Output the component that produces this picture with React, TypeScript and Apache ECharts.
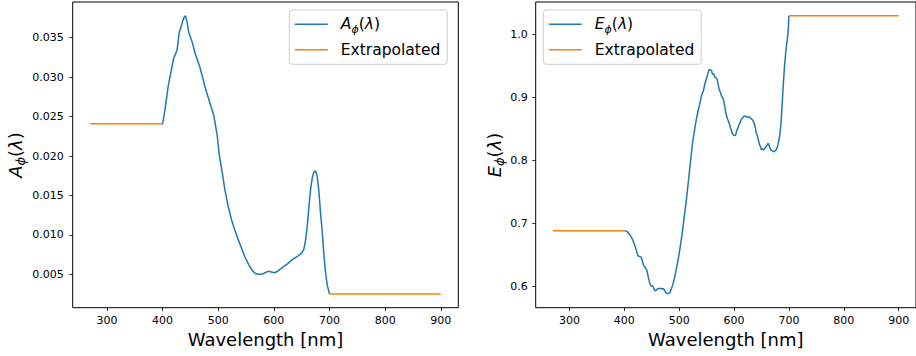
import React, { useEffect, useRef } from "react";
import * as echarts from "echarts";

// ---------- data ----------
const xTicks = [300, 400, 500, 600, 700, 800, 900];
const aTicks = [0.005, 0.01, 0.015, 0.02, 0.025, 0.03, 0.035];
const eTicks = [0.6, 0.7, 0.8, 0.9, 1.0];

const aWavelength = [400, 405, 410, 414, 420, 426, 430, 435, 438, 441, 444, 447, 453, 459, 467, 477, 486, 492, 498, 502, 507, 512, 518, 524, 530, 536, 542, 548, 555, 561, 567, 572, 578, 584, 590, 596, 602, 607, 612, 618, 624, 630, 638, 645, 650, 654, 657, 660, 663, 666, 669, 672, 675, 678, 681, 684, 687, 690, 693, 696, 700];
const aValues = [0.0240, 0.0262, 0.0288, 0.0303, 0.0324, 0.0334, 0.0357, 0.0368, 0.0375, 0.0378, 0.0370, 0.0357, 0.0345, 0.0329, 0.0313, 0.0286, 0.0265, 0.0252, 0.0227, 0.0201, 0.0180, 0.0157, 0.0136, 0.0119, 0.0106, 0.0094, 0.0083, 0.0072, 0.0062, 0.0055, 0.0051, 0.0050, 0.0050, 0.0052, 0.0054, 0.0053, 0.0052, 0.0054, 0.0057, 0.0060, 0.0063, 0.0067, 0.0071, 0.0074, 0.0077, 0.0082, 0.0093, 0.0111, 0.0135, 0.0158, 0.0172, 0.0180, 0.0181, 0.0174, 0.0155, 0.0127, 0.0104, 0.0074, 0.0052, 0.0036, 0.0025];
const aExtraLow = { x: [270, 400], y: [0.0241, 0.0241] };
const aExtraHigh = { x: [700, 900], y: [0.0025, 0.0025] };

const eWavelength = [400, 404, 408, 411, 414, 417, 420, 423, 425, 428, 431, 433, 435, 438, 441, 443, 445, 447, 449, 451, 453, 455, 457, 459, 461, 464, 467, 469, 471, 473, 475, 477, 479, 481, 483, 485, 487, 489, 492, 495, 498, 501, 504, 507, 510, 513, 516, 519, 522, 525, 528, 531, 534, 537, 540, 541, 544, 547, 550, 553, 555, 557, 559, 560, 562, 563, 565, 567, 569, 571, 573, 575, 577, 579, 581, 583, 585, 588, 591, 594, 597, 599, 601, 603, 605, 607, 609, 612, 615, 618, 621, 624, 627, 630, 633, 636, 638, 640, 642, 644, 646, 648, 650, 652, 654, 656, 658, 660, 662, 664, 666, 668, 670, 673, 676, 678, 680, 682, 684, 686, 688, 690, 692, 694, 696, 698, 699, 700];
const eValues = [0.6886, 0.6880, 0.6845, 0.6810, 0.6766, 0.6700, 0.6633, 0.6540, 0.6486, 0.6480, 0.6465, 0.6400, 0.6343, 0.6300, 0.6264, 0.6180, 0.6100, 0.6040, 0.6011, 0.6015, 0.5990, 0.5940, 0.5937, 0.5950, 0.5974, 0.5970, 0.5976, 0.5960, 0.5975, 0.5950, 0.5915, 0.5895, 0.5890, 0.5900, 0.5905, 0.5950, 0.6000, 0.6053, 0.6160, 0.6290, 0.6430, 0.6580, 0.6760, 0.6950, 0.7160, 0.7372, 0.7610, 0.7847, 0.8100, 0.8322, 0.8480, 0.8640, 0.8770, 0.8870, 0.9000, 0.9034, 0.9100, 0.9220, 0.9300, 0.9400, 0.9440, 0.9430, 0.9420, 0.9380, 0.9360, 0.9370, 0.9320, 0.9310, 0.9290, 0.9200, 0.9114, 0.9080, 0.9020, 0.8998, 0.8950, 0.8850, 0.8745, 0.8660, 0.8586, 0.8500, 0.8420, 0.8401, 0.8395, 0.8400, 0.8480, 0.8510, 0.8560, 0.8628, 0.8670, 0.8700, 0.8700, 0.8680, 0.8690, 0.8666, 0.8650, 0.8600, 0.8550, 0.8450, 0.8400, 0.8330, 0.8260, 0.8216, 0.8170, 0.8180, 0.8164, 0.8190, 0.8216, 0.8240, 0.8270, 0.8230, 0.8180, 0.8160, 0.8150, 0.8137, 0.8160, 0.8190, 0.8250, 0.8340, 0.8450, 0.8650, 0.8950, 0.9250, 0.9500, 0.9700, 0.9850, 1.0000, 1.0116, 1.0290];
const eExtraLow = { x: [270, 400], y: [0.6886, 0.6886] };
const eExtraHigh = { x: [700, 900], y: [1.029, 1.029] };

const BLUE = "#1f77b4";
const ORANGE = "#ff7f0e";
const FONT = "DejaVu Sans";

const zip = (xs: number[], ys: number[]) => xs.map((x, i) => [x, ys[i]]);

const mathRich = (size: number) => ({
  i: { fontFamily: FONT, fontStyle: "italic", fontSize: size, lineHeight: size + 5, color: "#000" },
  n: { fontFamily: FONT, fontSize: size, lineHeight: size + 5, color: "#000" },
  s: { fontFamily: FONT, fontStyle: "italic", fontSize: Math.round(size * 0.7), lineHeight: Math.round(size * 0.7), verticalAlign: "bottom", color: "#000" },
});
const mathLabel = (sym: string) => `{i|${sym}}{s|ϕ}{n|(}{i|λ}{n|)}`;

export default function App() {
  const ref = useRef<HTMLDivElement>(null);
  useEffect(() => {
    if (!ref.current) return;
    const chart = echarts.init(ref.current, undefined, { renderer: "svg" });

    const xAxisBase = (gridIndex: number) => ({
      type: "value",
      gridIndex,
      min: 238.5,
      max: 931.5,
      name: "Wavelength [nm]",
      nameLocation: "middle",
      nameGap: 21,
      nameTextStyle: { fontFamily: FONT, fontSize: 18, color: "#000" },
      axisLine: { show: false },
      axisTick: { show: true, length: 3.5, customValues: xTicks, lineStyle: { color: "#000", width: 0.8 } },
      axisLabel: { customValues: xTicks, margin: 7, fontFamily: FONT, fontSize: 11, color: "#000" },
      splitLine: { show: false },
    });

    const yAxisBase = (gridIndex: number, min: number, max: number, ticks: number[], dec: number, margin: number) => ({
      type: "value",
      gridIndex,
      min,
      max,
      axisLine: { show: false },
      axisTick: { show: true, length: 3.5, customValues: ticks, lineStyle: { color: "#000", width: 0.8 } },
      axisLabel: { customValues: ticks, margin, fontFamily: FONT, fontSize: 11, color: "#000", formatter: (v: number) => v.toFixed(dec) },
      splitLine: { show: false },
    });

    const legendBase = (left: number, names: string[], sym: string) => ({
      left,
      top: 10,
      orient: "vertical",
      data: names,
      icon: "rect",
      itemWidth: 33,
      itemHeight: 1.5,
      itemGap: 5.3,
      padding: [4, 7, 4.5, 5.5],
      backgroundColor: "rgba(255,255,255,0.8)",
      borderColor: "#cccccc",
      borderWidth: 1,
      borderRadius: 3,
      textStyle: {
        fontFamily: FONT,
        fontSize: 15.5,
        lineHeight: 20,
        color: "#000",
        padding: [0, 0, 0, 8],
        rich: mathRich(15.5),
      },
      formatter: (name: string) => (name === "Extrapolated" ? "Extrapolated" : mathLabel(sym)),
    });

    const lineSeries = (name: string, color: string, data: number[][], idx: number) => ({
      type: "line",
      name,
      xAxisIndex: idx,
      yAxisIndex: idx,
      data,
      symbol: "none",
      showSymbol: false,
      lineStyle: { color, width: 1.5 },
      itemStyle: { color },
      z: name === "Extrapolated" ? 3 : 2,
      silent: true,
    });

    chart.setOption({
      animation: false,
      backgroundColor: "#fff",
      grid: [
        { left: 72.7, top: 2, width: 385.6, height: 305.7, show: true, borderColor: "#000", borderWidth: 1, backgroundColor: "transparent" },
        { left: 535.7, top: 2, width: 385.3, height: 305.7, show: true, borderColor: "#000", borderWidth: 1, backgroundColor: "transparent" },
      ],
      xAxis: [xAxisBase(0), xAxisBase(1)],
      yAxis: [
        yAxisBase(0, 0.00077, 0.03953, aTicks, 3, 9),
        yAxisBase(1, 0.5668, 1.0507, eTicks, 1, 8),
      ],
      legend: [
        legendBase(289.3, ["Aphi", "Extrapolated"], "A"),
        legendBase(543.3, ["Ephi", "Extrapolated"], "E"),
      ],
      graphic: [
        {
          type: "text",
          x: 15,
          y: 155,
          rotation: Math.PI / 2,
          style: { text: mathLabel("A"), rich: mathRich(18), align: "center", verticalAlign: "middle" },
        },
        {
          type: "text",
          x: 494,
          y: 155,
          rotation: Math.PI / 2,
          style: { text: mathLabel("E"), rich: mathRich(18), align: "center", verticalAlign: "middle" },
        },
      ],
      series: [
        lineSeries("Aphi", BLUE, zip(aWavelength, aValues), 0),
        lineSeries("Extrapolated", ORANGE, zip(aExtraLow.x, aExtraLow.y), 0),
        lineSeries("Extrapolated", ORANGE, zip(aExtraHigh.x, aExtraHigh.y), 0),
        lineSeries("Ephi", BLUE, zip(eWavelength, eValues), 1),
        lineSeries("Extrapolated", ORANGE, zip(eExtraLow.x, eExtraLow.y), 1),
        lineSeries("Extrapolated", ORANGE, zip(eExtraHigh.x, eExtraHigh.y), 1),
      ],
    });
    return () => chart.dispose();
  }, []);
  return <div ref={ref} style={{ position: "fixed", left: 0, top: 0, width: 916, height: 356, background: "#fff" }} />;
}
